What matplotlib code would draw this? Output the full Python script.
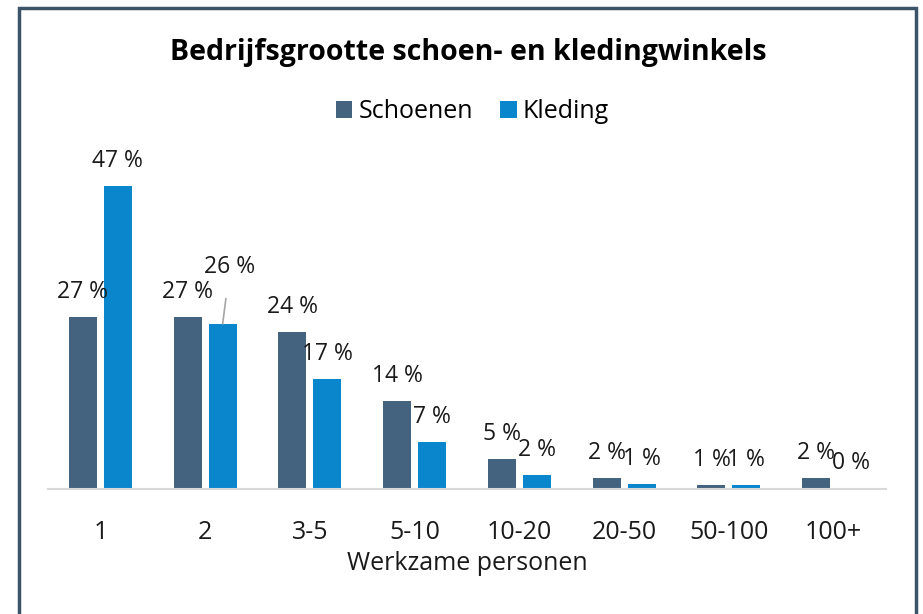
import matplotlib.pyplot as plt
from matplotlib.patches import Rectangle
import numpy as np

plt.rcParams['font.family'] = ['Open Sans', 'DejaVu Sans']

categories = ["1", "2", "3-5", "5-10", "10-20", "20-50", "50-100", "100+"]
schoenen = [26.7, 26.7, 24.4, 13.6, 4.6, 1.7, 0.6, 1.7]
kleding = [47.0, 25.6, 17.0, 7.3, 2.2, 0.7, 0.6, 0.1]

c_schoen = "#44637e"
c_kled = "#0a86cc"

fig = plt.figure(figsize=(9.23, 6.14), dpi=100)
ax = fig.add_axes([0.052, 0.2036, 0.908, 0.525])

x = np.arange(len(categories))
w = 0.267
b1 = ax.bar(x - 0.167, schoenen, w, color=c_schoen, label="Schoenen")
b2 = ax.bar(x + 0.167, kleding, w, color=c_kled, label="Kleding")

lab_fs = 16.5
for xi, v in zip(x - 0.167, schoenen):
    ax.annotate("%.0f %%" % v, (xi, v), xytext=(0, 25), textcoords="offset pixels",
                ha="center", va="center", fontsize=lab_fs, color="#1a1a1a")
for i, (xi, v) in enumerate(zip(x + 0.167, kleding)):
    if i == 1:
        # label moved up with a leader line
        ax.annotate("%.0f %%" % v, (xi, v), xytext=(xi + 0.07, v + 8.8),
                    ha="center", va="center", fontsize=lab_fs, color="#1a1a1a",
                    arrowprops=dict(arrowstyle="-", color="#a6a6a6", lw=1.2,
                                    shrinkA=12, shrinkB=0))
    else:
        ax.annotate("%.0f %%" % v, (xi, v), xytext=(0, 25), textcoords="offset pixels",
                    ha="center", va="center", fontsize=lab_fs, color="#1a1a1a")

ax.set_xlim(-0.5, 7.5)
ax.set_ylim(0, 50)
ax.set_xticks(x)
ax.set_xticklabels(categories, fontsize=18, color="#1a1a1a")
ax.tick_params(axis="x", length=0, pad=22)
ax.set_yticks([])
for s in ["top", "right", "left"]:
    ax.spines[s].set_visible(False)
ax.spines["bottom"].set_color("#d9d9d9")
ax.spines["bottom"].set_linewidth(1.5)
ax.set_xlabel("Werkzame personen", fontsize=18, color="#1a1a1a", labelpad=5)

fig.text(0.507, 0.915, "Bedrijfsgrootte schoen- en kledingwinkels",
         ha="center", va="center", fontsize=20.5, fontweight="bold", color="black")

fig.legend(handles=[b1, b2], loc="center", bbox_to_anchor=(0.512, 0.818), ncol=2,
           frameon=False, fontsize=18, handlelength=0.65, handleheight=0.65,
           handletextpad=0.25, columnspacing=1.1)

fig.patches.append(Rectangle((19 / 923, -0.05), (916 - 19) / 923, 1.05 - 8 / 614,
                             transform=fig.transFigure, fill=False,
                             edgecolor="#3c5468", linewidth=2.5))

fig.savefig("out.png", dpi=100)
